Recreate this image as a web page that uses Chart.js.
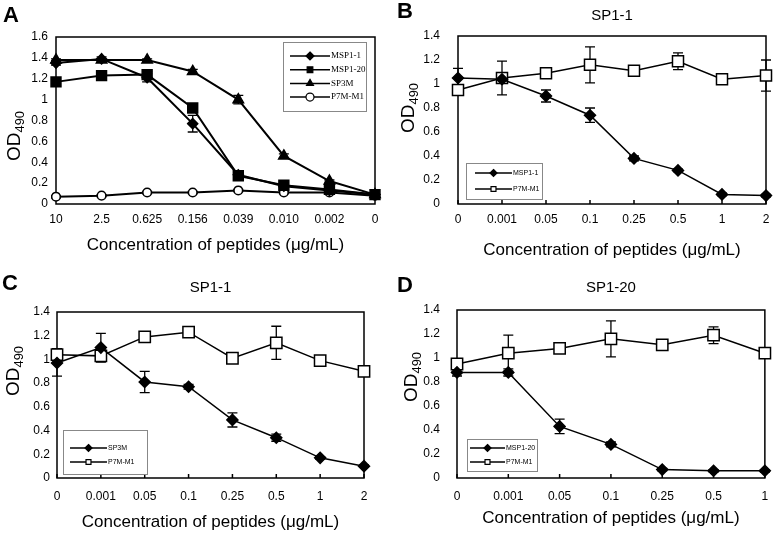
<!DOCTYPE html>
<html>
<head>
<meta charset="utf-8">
<script src="https://cdn.jsdelivr.net/npm/chart.js@4.4.0/dist/chart.umd.min.js"></script>
<style>
  body { margin: 0; background: #fff; font-family: "Liberation Sans", Arial, sans-serif; }
  #wrap { position: relative; width: 780px; height: 537px; overflow: hidden; }
  canvas { position: absolute; }
  .letter { position: absolute; font: bold 22px "Liberation Sans", Arial, sans-serif; line-height: 22px; }
  .od { position: absolute; font-size: 19px; line-height: 19px; white-space: nowrap;
        transform: translate(-50%, -50%) rotate(-90deg); }
  .od sub { font-size: 13px; vertical-align: -4px; line-height: 0; }
</style>
</head>
<body>
<div id="wrap">
  <canvas id="chartA" width="390" height="268" style="left:0;top:0"></canvas>
  <canvas id="chartB" width="390" height="268" style="left:390px;top:0"></canvas>
  <canvas id="chartC" width="390" height="269" style="left:0;top:268px"></canvas>
  <canvas id="chartD" width="390" height="269" style="left:390px;top:268px"></canvas>

  <div class="letter" style="left:3px;top:4px">A</div>
  <div class="letter" style="left:397px;top:0px">B</div>
  <div class="letter" style="left:2px;top:272px">C</div>
  <div class="letter" style="left:397px;top:274px">D</div>

  <div class="od" style="left:13px;top:136px">OD<sub>490</sub></div>
  <div class="od" style="left:407px;top:108px">OD<sub>490</sub></div>
  <div class="od" style="left:12px;top:371px">OD<sub>490</sub></div>
  <div class="od" style="left:410px;top:377px">OD<sub>490</sub></div>
</div>

<script>
// Panel A
var catsA = ['10', '2.5', '0.625', '0.156', '0.039', '0.010', '0.002', '0'];
var msp11A = [1.35, 1.39, 1.21, 0.77, 0.28, 0.17, 0.13, 0.09];
var msp11AErr = [0.02, 0.02, 0.04, 0.08, 0.03, 0.01, 0.01, 0.01];
var msp120A = [1.17, 1.23, 1.24, 0.92, 0.27, 0.18, 0.14, 0.09];
var msp120AErr = [0.02, 0.01, 0.03, 0.03, 0.04, 0.02, 0.01, 0.01];
var sp3mA = [1.38, 1.38, 1.38, 1.27, 1.00, 0.46, 0.22, 0.09];
var sp3mAErr = [0.01, 0.01, 0.01, 0.02, 0.04, 0.02, 0.01, 0.01];
var p7mA = [0.07, 0.08, 0.11, 0.11, 0.13, 0.11, 0.11, 0.08];
var p7mAErr = [0.01, 0.01, 0.01, 0.01, 0.01, 0.01, 0.01, 0.01];
var yTicksA = [0, 0.2, 0.4, 0.6, 0.8, 1, 1.2, 1.4, 1.6];

// Panel B
var catsB = ['0', '0.001', '0.05', '0.1', '0.25', '0.5', '1', '2'];
var msp11B = [1.05, 1.04, 0.90, 0.74, 0.38, 0.28, 0.08, 0.07];
var msp11BErr = [0.08, 0.02, 0.05, 0.06, 0.02, 0.01, 0.01, 0.01];
var p7mB = [0.95, 1.05, 1.09, 1.16, 1.11, 1.19, 1.04, 1.07];
var p7mBErr = [0.02, 0.14, 0.02, 0.15, 0.03, 0.07, 0.02, 0.13];

// Panel C
var catsC = ['0', '0.001', '0.05', '0.1', '0.25', '0.5', '1', '2'];
var sp3mC = [0.97, 1.10, 0.81, 0.77, 0.49, 0.34, 0.17, 0.10];
var sp3mCErr = [0.11, 0.12, 0.09, 0.02, 0.06, 0.03, 0.01, 0.01];
var p7mC = [1.04, 1.03, 1.19, 1.23, 1.01, 1.14, 0.99, 0.90];
var p7mCErr = [0.05, 0.05, 0.02, 0.02, 0.02, 0.14, 0.02, 0.02];

// Panel D
var catsD = ['0', '0.001', '0.05', '0.1', '0.25', '0.5', '1'];
var msp120D = [0.88, 0.88, 0.43, 0.28, 0.07, 0.06, 0.06];
var msp120DErr = [0.03, 0.03, 0.06, 0.02, 0.01, 0.01, 0.01];
var p7mD = [0.95, 1.04, 1.08, 1.16, 1.11, 1.19, 1.04];
var p7mDErr = [0.02, 0.15, 0.02, 0.15, 0.04, 0.07, 0.02];

var yTicksBCD = [0, 0.2, 0.4, 0.6, 0.8, 1, 1.2, 1.4];

var SANS = '"Liberation Sans", Arial, sans-serif';
var SERIF = '"Liberation Serif", "Times New Roman", serif';
var X_TITLE = 'Concentration of peptides (\u03bcg/mL)';

function drawMarker(ctx, style, x, y, r, fill) {
  ctx.beginPath();
  if (style === 'rectRot') {
    ctx.moveTo(x, y - r); ctx.lineTo(x + r, y); ctx.lineTo(x, y + r); ctx.lineTo(x - r, y);
    ctx.closePath();
  } else if (style === 'rect') {
    var s = r * Math.SQRT1_2;
    ctx.rect(x - s, y - s, 2 * s, 2 * s);
  } else if (style === 'triangle') {
    ctx.moveTo(x, y - r);
    ctx.lineTo(x + r * 0.866, y + r * 0.5);
    ctx.lineTo(x - r * 0.866, y + r * 0.5);
    ctx.closePath();
  } else {
    ctx.arc(x, y, r, 0, Math.PI * 2);
  }
  ctx.fillStyle = fill;
  ctx.fill();
  ctx.stroke();
}

// frame, inner ticks and error bars under the lines; legend box on top
var panelPlugin = {
  id: 'panel',
  beforeDatasetsDraw: function (chart, args, opts) {
    var ctx = chart.ctx, a = chart.chartArea, y = chart.scales.y, x = chart.scales.x;
    ctx.save();
    ctx.strokeStyle = '#000';
    ctx.lineWidth = 1.5;
    ctx.strokeRect(a.left, a.top, a.right - a.left, a.bottom - a.top);
    if (opts.innerTicks) {
      ctx.beginPath();
      x.ticks.forEach(function (t, i) {
        var px = x.getPixelForTick(i);
        ctx.moveTo(px, a.bottom); ctx.lineTo(px, a.bottom - 4);
      });
      ctx.stroke();
    }
    ctx.lineWidth = 1.3;
    chart.data.datasets.forEach(function (ds, i) {
      if (!ds.errors) return;
      var meta = chart.getDatasetMeta(i);
      meta.data.forEach(function (pt, j) {
        var e = ds.errors[j];
        if (!e) return;
        var v = ds.data[j];
        var top = y.getPixelForValue(v + e), bot = y.getPixelForValue(v - e);
        ctx.beginPath();
        ctx.moveTo(pt.x, top); ctx.lineTo(pt.x, bot);
        ctx.moveTo(pt.x - opts.cap, top); ctx.lineTo(pt.x + opts.cap, top);
        ctx.moveTo(pt.x - opts.cap, bot); ctx.lineTo(pt.x + opts.cap, bot);
        ctx.stroke();
      });
    });
    ctx.restore();
  },
  afterDraw: function (chart, args, opts) {
    var lg = opts.legend;
    if (!lg) return;
    var ctx = chart.ctx;
    ctx.save();
    ctx.fillStyle = '#fff';
    ctx.fillRect(lg.x, lg.y, lg.w, lg.h);
    ctx.strokeStyle = '#888';
    ctx.lineWidth = 1;
    ctx.strokeRect(lg.x + 0.5, lg.y + 0.5, lg.w, lg.h);
    ctx.font = lg.font;
    ctx.textBaseline = 'middle';
    chart.data.datasets.forEach(function (ds, i) {
      var ry = lg.y + lg.first + i * lg.row;
      var x0 = lg.x + lg.pad, x1 = x0 + lg.len;
      ctx.strokeStyle = '#000';
      ctx.lineWidth = 1.5;
      ctx.beginPath(); ctx.moveTo(x0, ry); ctx.lineTo(x1, ry); ctx.stroke();
      ctx.lineWidth = 1.2;
      drawMarker(ctx, ds.pointStyle, (x0 + x1) / 2, ry, lg.r, ds.pointBackgroundColor);
      ctx.fillStyle = '#000';
      ctx.fillText(ds.label, x1 + 1, ry);
    });
    ctx.restore();
  }
};

function series(label, data, errors, style, filled, r, lw) {
  return {
    label: label, data: data, errors: errors,
    pointStyle: style, pointRadius: r,
    pointBackgroundColor: filled ? '#000' : '#fff',
    pointBorderColor: '#000', pointBorderWidth: 1.5,
    borderColor: '#000', borderWidth: lw, tension: 0, fill: false
  };
}

function build(id, cats, sets, yTicks, lay) {
  return new Chart(document.getElementById(id), {
    type: 'line',
    data: { labels: cats, datasets: sets },
    options: {
      responsive: false,
      animation: false,
      devicePixelRatio: 1,
      events: [],
      layout: { padding: { top: lay.top, right: lay.right, left: 0, bottom: 0 } },
      plugins: {
        legend: { display: false },
        tooltip: { enabled: false },
        title: lay.title ? {
          display: true, text: lay.title, color: '#000', fullSize: false,
          font: { size: 15, family: SANS, weight: 'normal' },
          padding: { top: lay.tt, bottom: lay.tb }
        } : { display: false },
        panel: { cap: 5, innerTicks: lay.innerTicks, legend: lay.legend }
      },
      scales: {
        x: {
          type: 'category', offset: false,
          grid: { display: false, drawTicks: false },
          border: { display: false },
          ticks: { color: '#000', font: { size: 12, family: SANS }, padding: lay.xpad, maxRotation: 0, autoSkip: false },
          title: { display: true, text: X_TITLE, color: '#000', font: { size: 17, family: SANS }, padding: { top: 0, bottom: lay.xtb } },
          afterFit: function (s) { s.height = lay.xh; }
        },
        y: {
          min: 0, max: yTicks[yTicks.length - 1],
          grid: { display: false, drawTicks: false },
          border: { display: false },
          ticks: { color: '#000', font: { size: 12, family: SANS }, padding: lay.ypad, callback: function (v) { return String(v); } },
          afterBuildTicks: function (s) { s.ticks = yTicks.map(function (v) { return { value: v }; }); },
          afterFit: function (s) { s.width = lay.yw; }
        }
      }
    },
    plugins: [panelPlugin]
  });
}

document.addEventListener('DOMContentLoaded', function () {
  build('chartA', catsA, [
    series('MSP1-1', msp11A, msp11AErr, 'rectRot', true, 5, 2),
    series('MSP1-20', msp120A, msp120AErr, 'rect', true, 7, 2),
    series('SP3M', sp3mA, sp3mAErr, 'triangle', true, 6, 2),
    series('P7M-M1', p7mA, p7mAErr, 'circle', false, 4.3, 2)
  ], yTicksA, {
    top: 37, right: 15, yw: 56, ypad: 8, xh: 64, xpad: 8.8, xtb: 12.8, innerTicks: false,
    legend: { x: 283, y: 42, w: 83, h: 69, first: 14, row: 13.7, pad: 7, len: 40, r: 4, font: '9px ' + SERIF }
  });

  build('chartB', catsB, [
    series('MSP1-1', msp11B, msp11BErr, 'rectRot', true, 5.5, 1.5),
    series('P7M-M1', p7mB, p7mBErr, 'rect', false, 7.8, 1.5)
  ], yTicksBCD, {
    title: 'SP1-1', tt: 7, tb: 11,
    top: 0, right: 14, yw: 68, ypad: 18, xh: 64, xpad: 8.8, xtb: 7.8, innerTicks: true,
    legend: { x: 76, y: 163, w: 76, h: 36, first: 10, row: 16, pad: 9, len: 37, r: 3.5, font: '7px ' + SANS }
  });

  build('chartC', catsC, [
    series('SP3M', sp3mC, sp3mCErr, 'rectRot', true, 5.5, 1.5),
    series('P7M-M1', p7mC, p7mCErr, 'rect', false, 8, 1.5)
  ], yTicksBCD, {
    title: 'SP1-1', tt: 11, tb: 15,
    top: 0, right: 26, yw: 57, ypad: 7, xh: 59, xpad: 11.8, xtb: 4.8, innerTicks: true,
    legend: { x: 63, y: 162, w: 84, h: 44, first: 18, row: 14, pad: 7, len: 37, r: 3.5, font: '7px ' + SANS }
  });

  build('chartD', catsD, [
    series('MSP1-20', msp120D, msp120DErr, 'rectRot', true, 5.5, 1.5),
    series('P7M-M1', p7mD, p7mDErr, 'rect', false, 8, 1.5)
  ], yTicksBCD, {
    title: 'SP1-20', tt: 11, tb: 13,
    top: 0, right: 7, yw: 67, ypad: 17, xh: 59, xpad: 11.8, xtb: 8.8, innerTicks: true,
    legend: { x: 77, y: 171, w: 70, h: 32, first: 9, row: 14, pad: 3, len: 35, r: 3.5, font: '7px ' + SANS }
  });
});
</script>
</body>
</html>
